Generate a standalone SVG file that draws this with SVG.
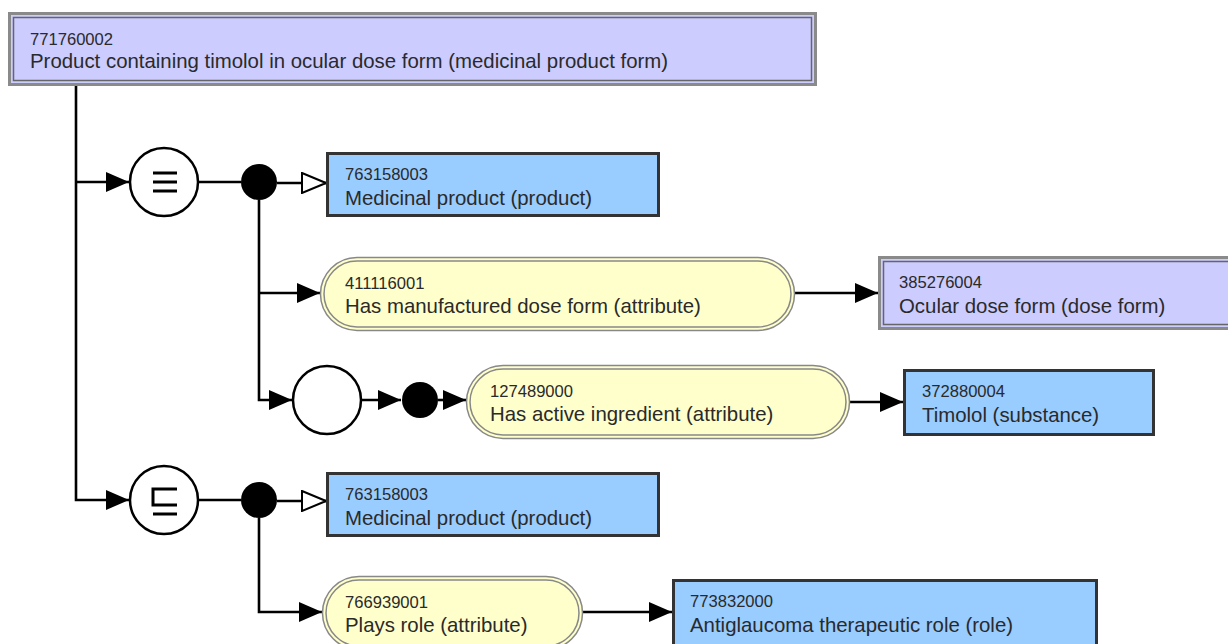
<svg xmlns="http://www.w3.org/2000/svg" width="1228" height="644" viewBox="0 0 1228 644">
<style>
.code{font-family:"Liberation Sans",Arial,sans-serif;font-size:16.6px;fill:#2a2a2a}
.lbl{font-family:"Liberation Sans",Arial,sans-serif;font-size:20.4px;fill:#2a2a2a}
.conn{stroke:#000;stroke-width:2.6;fill:none}
.blue{fill:#99ccff;stroke:#333;stroke-width:3}
.lavo{fill:#ccccff;stroke:#8a8a8a;stroke-width:3}
.lavi{fill:none;stroke:#666;stroke-width:1.5}
.pillo{fill:#ffffcc;stroke:#888;stroke-width:1.5}
.pilli{fill:none;stroke:#888;stroke-width:1.5}
.circ{fill:#fff;stroke:#000;stroke-width:2.5}
.dot{fill:#000}
.sym{stroke:#000;stroke-width:3;fill:none}
</style>
<defs>
<marker id="arr" viewBox="0 0 23 20" refX="23" refY="10" markerWidth="23" markerHeight="20" markerUnits="userSpaceOnUse" orient="auto">
<path d="M0,0 L23,10 L0,20 z" fill="#000"/>
</marker>
<marker id="open" viewBox="-1 -1 26 22" refX="24" refY="10" markerWidth="26" markerHeight="22" markerUnits="userSpaceOnUse" orient="auto">
<path d="M0,0 L24,10 L0,20 z" fill="#fff" stroke="#000" stroke-width="2"/>
</marker>
</defs>

<g id="connectors">
<path class="conn" d="M76,86 V500 H129" marker-end="url(#arr)"/>
<path class="conn" d="M76,182 H129" marker-end="url(#arr)"/>
<path class="conn" d="M198,182 H241"/>
<path class="conn" d="M277,183 H326" marker-end="url(#open)"/>
<path class="conn" d="M259,200 V400 H292" marker-end="url(#arr)"/>
<path class="conn" d="M259,293 H320" marker-end="url(#arr)"/>
<path class="conn" d="M361,400 H401" marker-end="url(#arr)"/>
<path class="conn" d="M438,400 H466" marker-end="url(#arr)"/>
<path class="conn" d="M795,293 H878" marker-end="url(#arr)"/>
<path class="conn" d="M850,402 H903" marker-end="url(#arr)"/>
<path class="conn" d="M198,500 H241"/>
<path class="conn" d="M277,501 H326" marker-end="url(#open)"/>
<path class="conn" d="M259,518 V612 H322" marker-end="url(#arr)"/>
<path class="conn" d="M583,612 H672" marker-end="url(#arr)"/>
</g>

<g id="n771760002">
<rect class="lavo" x="9.5" y="13.5" width="806" height="71"/>
<rect class="lavi" x="13.5" y="17.5" width="798" height="63"/>
<text class="code" x="30" y="45">771760002</text>
<text class="lbl" x="30" y="68">Product containing timolol in ocular dose form (medicinal product form)</text>
</g>

<g id="eq1">
<circle class="circ" cx="164" cy="182" r="34"/>
<path class="sym" d="M153,173 H177 M153,182 H177 M153,191 H177"/>
</g>
<g id="dot1"><circle class="dot" cx="259" cy="182" r="18"/></g>

<g id="n763158003a">
<rect class="blue" x="327.5" y="153.5" width="331" height="62"/>
<text class="code" x="345" y="180">763158003</text>
<text class="lbl" x="345" y="205">Medicinal product (product)</text>
</g>

<g id="n411116001">
<rect class="pillo" x="320.5" y="257.5" width="474" height="73" rx="36.5"/>
<rect class="pilli" x="324" y="261" width="467" height="66" rx="33"/>
<text class="code" x="345" y="289">411116001</text>
<text class="lbl" x="345" y="313">Has manufactured dose form (attribute)</text>
</g>

<g id="n385276004">
<rect class="lavo" x="879.5" y="257.5" width="360" height="71"/>
<rect class="lavi" x="883.5" y="261.5" width="360" height="63"/>
<text class="code" x="899" y="288">385276004</text>
<text class="lbl" x="899" y="313">Ocular dose form (dose form)</text>
</g>

<g id="grp1"><circle class="circ" cx="327" cy="400" r="34"/></g>
<g id="dot2"><circle class="dot" cx="420" cy="400" r="18"/></g>

<g id="n127489000">
<rect class="pillo" x="466.5" y="365.5" width="383" height="73" rx="36.5"/>
<rect class="pilli" x="470" y="369" width="376" height="66" rx="33"/>
<text class="code" x="490" y="397">127489000</text>
<text class="lbl" x="490" y="421">Has active ingredient (attribute)</text>
</g>

<g id="n372880004">
<rect class="blue" x="904.5" y="370.5" width="249" height="64"/>
<text class="code" x="922" y="397">372880004</text>
<text class="lbl" x="922" y="422">Timolol (substance)</text>
</g>

<g id="sub1">
<circle class="circ" cx="164" cy="500" r="34"/>
<path class="sym" d="M177,489 H153 V505 H177 M153,514 H177"/>
</g>
<g id="dot3"><circle class="dot" cx="259" cy="500" r="18"/></g>

<g id="n763158003b">
<rect class="blue" x="327.5" y="473.5" width="331" height="62"/>
<text class="code" x="345" y="500">763158003</text>
<text class="lbl" x="345" y="525">Medicinal product (product)</text>
</g>

<g id="n766939001">
<rect class="pillo" x="322.5" y="576.5" width="260" height="73" rx="36.5"/>
<rect class="pilli" x="326" y="580" width="253" height="66" rx="33"/>
<text class="code" x="345" y="608">766939001</text>
<text class="lbl" x="345" y="632">Plays role (attribute)</text>
</g>

<g id="n773832000">
<rect class="blue" x="673.5" y="580.5" width="423" height="70"/>
<text class="code" x="690" y="607">773832000</text>
<text class="lbl" x="690" y="632">Antiglaucoma therapeutic role (role)</text>
</g>
</svg>
